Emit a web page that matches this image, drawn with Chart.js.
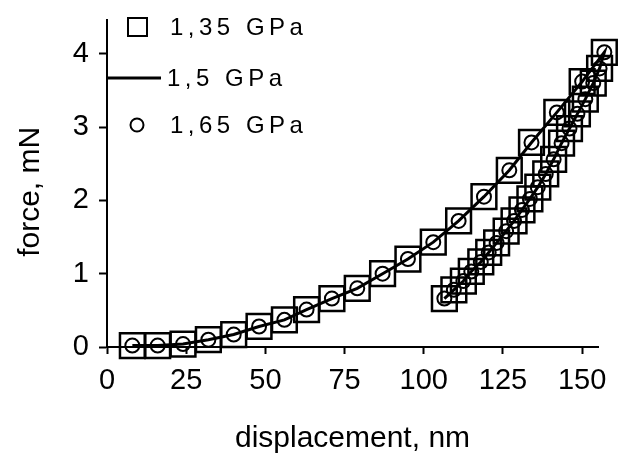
<!DOCTYPE html>
<html>
<head>
<meta charset="utf-8">
<script src="https://cdn.jsdelivr.net/npm/chart.js@4/dist/chart.umd.min.js"></script>
<style>
  html, body { margin: 0; padding: 0; background: #fff; }
  #wrap { width: 623px; height: 457px; }
</style>
</head>
<body>
<div id="wrap"><canvas id="forceChart"></canvas></div>
<script>
// series names (same curve for three hardness values)
const seriesLabels = ['1,35 GPa', '1,5 GPa', '1,65 GPa'];

// loading branch, displacement (nm) / force (mN)
const loadX = [8, 16, 24, 32, 40, 48, 56, 63, 71, 79, 87, 95, 103, 111, 119, 127, 134, 142, 150, 157];
const loadY = [0.02, 0.02, 0.04, 0.1, 0.17, 0.28, 0.37, 0.51, 0.66, 0.8, 1.0, 1.2, 1.43, 1.72, 2.05, 2.41, 2.79, 3.2, 3.62, 4.02];

// unloading branch, from top down
const unloadX = [155.5, 153.5, 151, 148.5, 146, 143.5, 141, 138.5, 136, 133.5, 131, 128.5, 126, 123, 120.5, 118, 115, 112.5, 109.5, 106.5];
const unloadY = [3.8, 3.6, 3.38, 3.18, 2.98, 2.78, 2.56, 2.36, 2.18, 2.02, 1.87, 1.72, 1.58, 1.42, 1.29, 1.16, 1.03, 0.9, 0.78, 0.66];

// axis ticks
const xTicks = [0, 25, 50, 75, 100, 125, 150];
const yTicks = [0, 1, 2, 3, 4];

// full path: up the loading branch, then down the unloading one
function buildPoints() {
  const pts = loadX.map((x, i) => ({ x: x, y: loadY[i] }));
  unloadX.forEach((x, i) => pts.push({ x: x, y: unloadY[i] }));
  return pts;
}

const FONT = '"Liberation Sans", Arial, sans-serif';

// legend drawn inside the plot, over the y axis
const insideLegend = {
  id: 'insideLegend',
  afterDraw(chart) {
    const ctx = chart.ctx;
    const rows = [27, 78, 125];
    ctx.save();
    ctx.strokeStyle = '#000';
    ctx.fillStyle = '#000';
    ctx.font = '24px ' + FONT;
    ctx.letterSpacing = '4.5px';
    ctx.textBaseline = 'middle';
    ctx.textAlign = 'left';

    // square
    ctx.lineWidth = 2;
    ctx.strokeRect(128, rows[0] - 9, 19, 18);
    // line
    ctx.lineWidth = 3;
    ctx.beginPath();
    ctx.moveTo(108, rows[1]);
    ctx.lineTo(161, rows[1]);
    ctx.stroke();
    // circle
    ctx.lineWidth = 2;
    ctx.beginPath();
    ctx.arc(137, rows[2], 6.5, 0, Math.PI * 2);
    ctx.stroke();

    ctx.fillText(chart.data.datasets[0].label, 170, rows[0] + 1);
    ctx.fillText(chart.data.datasets[1].label, 167, rows[1] + 1);
    ctx.fillText(chart.data.datasets[2].label, 170, rows[2] + 1);
    ctx.restore();
  }
};

const ctx = document.getElementById('forceChart').getContext('2d');
const chart = new Chart(ctx, {
  type: 'scatter',
  data: {
    datasets: [
      {
        label: seriesLabels[0],
        data: buildPoints(),
        showLine: false,
        pointStyle: 'rect',
        pointRadius: 17.5,
        pointBorderWidth: 2.5,
        pointBorderColor: '#000',
        pointBackgroundColor: 'rgba(0,0,0,0)',
        clip: false,
      },
      {
        label: seriesLabels[1],
        data: buildPoints(),
        showLine: true,
        borderColor: '#000',
        borderWidth: 3,
        pointRadius: 0,
        tension: 0,
        clip: false,
      },
      {
        label: seriesLabels[2],
        data: buildPoints(),
        showLine: false,
        pointStyle: 'circle',
        pointRadius: 7,
        pointBorderWidth: 2,
        pointBorderColor: '#000',
        pointBackgroundColor: 'rgba(0,0,0,0)',
        clip: false,
      },
    ],
  },
  options: {
    responsive: true,
    maintainAspectRatio: false,
    animation: false,
    events: [],
    layout: { padding: { top: 18, right: 25, left: 0, bottom: 0 } },
    plugins: {
      legend: { display: false },
      tooltip: { enabled: false },
    },
    scales: {
      x: {
        type: 'linear',
        min: 0,
        max: 155,
        afterBuildTicks: (scale) => { scale.ticks = xTicks.map(v => ({ value: v })); },
        afterFit: (scale) => { scale.height = 110; scale.paddingLeft = 0; scale.paddingRight = 0; },
        border: { color: '#000', width: 2 },
        grid: { drawOnChartArea: false, color: '#000', tickLength: 7, tickWidth: 2 },
        ticks: {
          color: '#000',
          padding: 10,
          maxRotation: 0,
          autoSkip: false,
          font: { family: FONT, size: 29 },
        },
        title: {
          display: true,
          text: 'displacement, nm',
          color: '#000',
          padding: { top: 0, bottom: 0 },
          font: { family: FONT, size: 30 },
        },
      },
      y: {
        type: 'linear',
        min: 0,
        max: 4.46,
        afterBuildTicks: (scale) => { scale.ticks = yTicks.map(v => ({ value: v })); },
        afterFit: (scale) => { scale.width = 107; scale.paddingTop = 0; scale.paddingBottom = 0; },
        border: { color: '#000', width: 2 },
        grid: { drawOnChartArea: false, color: '#000', tickLength: 8, tickWidth: 2 },
        ticks: {
          color: '#000',
          padding: 10,
          font: { family: FONT, size: 29 },
        },
        title: {
          display: true,
          text: 'force, mN  ',
          color: '#000',
          padding: { top: 13, bottom: 0 },
          font: { family: FONT, size: 30 },
        },
      },
    },
  },
  plugins: [insideLegend],
});
</script>
</body>
</html>
